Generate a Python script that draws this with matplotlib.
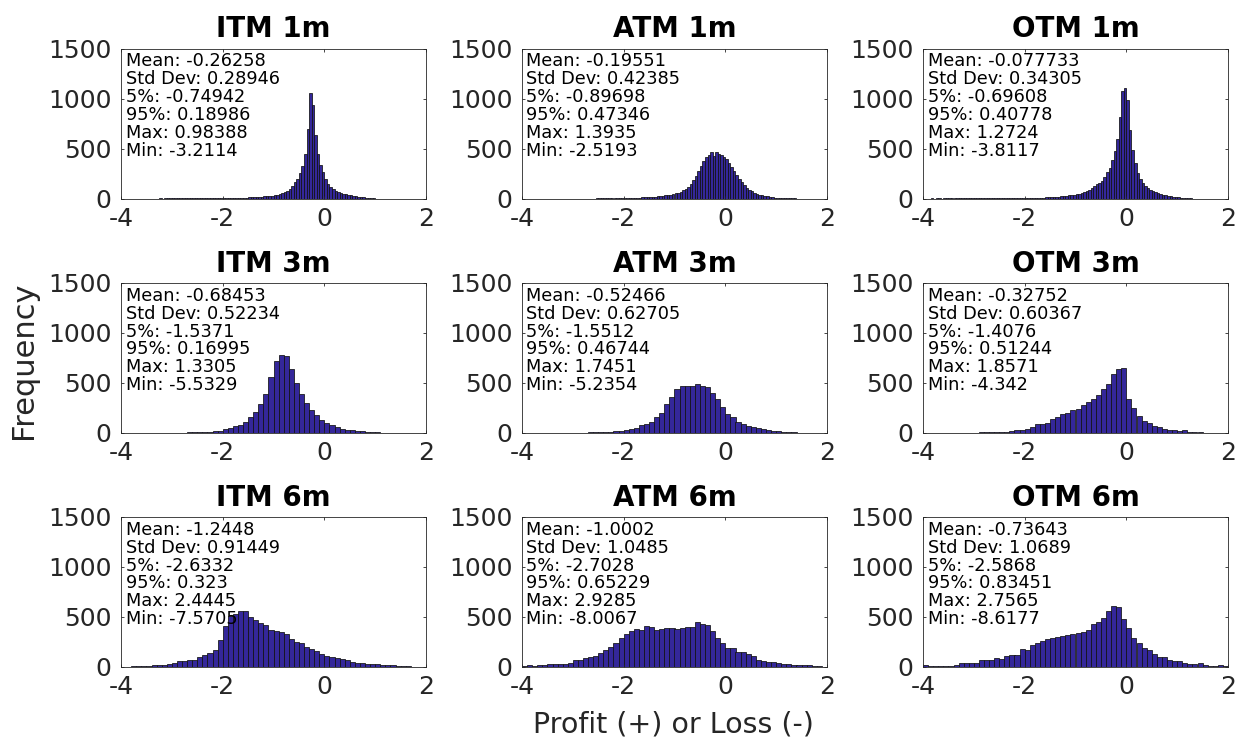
import numpy as np
import matplotlib
matplotlib.use("Agg")
import matplotlib.pyplot as plt

plt.rcParams['font.family'] = ['DejaVu Sans']
plt.rcParams['axes.unicode_minus'] = False

# ---------------- data (bin counts) ----------------
titles = ["ITM 1m", "ATM 1m", "OTM 1m",
          "ITM 3m", "ATM 3m", "OTM 3m",
          "ITM 6m", "ATM 6m", "OTM 6m"]

# first bin left edge and bin width for each panel
bin_start = [-3.25, -2.55, -3.85,
             -4.0, -4.0, -4.0,
             -4.0, -4.0, -4.0]
bin_width = [0.05, 0.05, 0.05,
             0.1, 0.1, 0.1,
             0.1, 0.1, 0.1]

itm_1m = [1, 0, 1, 1, 1, 1, 1, 1, 2, 1, 2, 2, 2, 2, 2, 2, 3, 3, 3, 3, 3, 3, 4, 4, 4,
          4, 5, 5, 6, 6, 7, 7, 8, 9, 10,
          11, 12, 13, 14, 16, 18, 21, 23, 26, 30,
          34, 40, 46, 55, 66, 80, 98, 125, 165, 195,
          255, 330, 450, 700, 1060, 940, 640, 450, 340, 265,
          200, 150, 118, 95, 80, 68, 58, 50, 44, 40,
          36, 30, 25, 20, 16, 12, 9, 6, 4, 2]
atm_1m = [1, 1, 1, 2, 2, 2, 3, 3, 3, 4, 4,
          5, 5, 6, 7, 8, 9, 10, 11, 12, 14,
          15, 17, 19, 21, 24, 27, 31, 35, 40, 45,
          52, 60, 70, 82, 98, 120, 150, 185, 230, 280,
          330, 380, 420, 440, 465, 430, 470, 445, 440, 420,
          395, 360, 320, 280, 240, 200, 165, 135, 110, 90,
          74, 60, 50, 40, 33, 27, 22, 17, 13, 10,
          8, 6, 5, 4, 3, 2, 2, 1]
otm_1m = [1, 0, 1, 1, 0, 1, 1, 1, 1, 1, 1, 1, 1, 2, 1, 2, 2,
          2, 2, 2, 2, 3, 2, 3, 3, 3, 3, 3, 4, 4, 4, 4, 5, 5, 5, 5, 6,
          6, 6, 7, 7, 8, 8, 9, 10, 11, 12,
          14, 15, 17, 19, 22, 25, 28, 32, 36, 40,
          43, 47, 52, 62, 72, 85, 110, 125, 150, 160,
          180, 220, 270, 310, 390, 480, 600, 820, 1080, 1110,
          990, 690, 490, 360, 260, 200, 160, 125, 105, 90,
          78, 66, 56, 47, 40, 33, 27, 22, 18, 14,
          11, 8, 6, 4, 3, 1]
itm_3m = [1, 1, 1, 2, 2, 2, 2, 3, 3, 3,
          4, 5, 5, 6, 7, 8, 10, 13, 18, 25,
          43, 53, 67, 83, 110, 160, 210, 293, 393, 560,
          720, 785, 770, 640, 500, 390, 300, 235, 180, 135,
          100, 77, 60, 43, 35, 28, 22, 17, 13, 10,
          7, 5, 3, 1]
atm_3m = [1, 1, 1, 1, 2, 2, 2, 2, 3, 3,
          3, 4, 5, 6, 7, 9, 11, 14, 18, 22,
          28, 40, 55, 78, 95, 115, 160, 200, 295, 360,
          440, 470, 470, 470, 490, 475, 460, 400, 340, 265,
          195, 160, 115, 93, 75, 60, 48, 38, 30, 24,
          17, 12, 8, 6, 4, 3, 2, 1]
otm_3m = [1, 1, 2, 2, 2, 3, 3, 3, 4, 4,
          5, 6, 7, 8, 10, 12, 15, 20, 27, 33,
          43, 60, 87, 93, 100, 143, 160, 187, 203, 227,
          243, 277, 310, 343, 377, 443, 493, 593, 643, 650,
          340, 250, 175, 125, 100, 75, 60, 45, 35, 28,
          22, 30, 14, 10, 7, 5, 4, 2, 1]
itm_6m = [3, 5, 7, 10, 10, 13, 17, 20, 23, 33,
          40, 57, 60, 67, 73, 100, 117, 143, 173, 267,
          410, 507, 527, 557, 557, 500, 467, 443, 417, 367,
          360, 350, 327, 283, 250, 240, 200, 183, 157, 133,
          107, 100, 90, 77, 67, 50, 43, 43, 33, 27,
          27, 23, 20, 17, 13, 8, 6, 4, 3, 2]
atm_6m = [10, 20, 13, 17, 23, 27, 33, 33, 33, 40,
          73, 67, 93, 100, 107, 140, 167, 200, 240, 290,
          333, 360, 383, 373, 410, 400, 373, 383, 390, 390,
          383, 393, 400, 400, 450, 427, 417, 360, 293, 240,
          193, 193, 150, 150, 127, 107, 73, 60, 50, 50,
          43, 33, 27, 23, 20, 20, 17, 10, 7, 3]
otm_6m = [17, 10, 7, 10, 13, 13, 17, 40, 40, 43,
          43, 67, 67, 67, 93, 83, 110, 123, 123, 183,
          173, 223, 240, 260, 277, 290, 300, 310, 317, 327,
          343, 350, 367, 433, 450, 493, 560, 610, 600, 477,
          393, 290, 240, 190, 173, 133, 100, 100, 67, 60,
          60, 43, 33, 27, 43, 23, 10, 10, 17, 13]

counts = [itm_1m, atm_1m, otm_1m, itm_3m, atm_3m, otm_3m, itm_6m, atm_6m, otm_6m]

stats_text = [
    ["Mean: -0.26258", "Std Dev: 0.28946", "5%: -0.74942", "95%: 0.18986", "Max: 0.98388", "Min: -3.2114"],
    ["Mean: -0.19551", "Std Dev: 0.42385", "5%: -0.89698", "95%: 0.47346", "Max: 1.3935", "Min: -2.5193"],
    ["Mean: -0.077733", "Std Dev: 0.34305", "5%: -0.69608", "95%: 0.40778", "Max: 1.2724", "Min: -3.8117"],
    ["Mean: -0.68453", "Std Dev: 0.52234", "5%: -1.5371", "95%: 0.16995", "Max: 1.3305", "Min: -5.5329"],
    ["Mean: -0.52466", "Std Dev: 0.62705", "5%: -1.5512", "95%: 0.46744", "Max: 1.7451", "Min: -5.2354"],
    ["Mean: -0.32752", "Std Dev: 0.60367", "5%: -1.4076", "95%: 0.51244", "Max: 1.8571", "Min: -4.342"],
    ["Mean: -1.2448", "Std Dev: 0.91449", "5%: -2.6332", "95%: 0.323", "Max: 2.4445", "Min: -7.5705"],
    ["Mean: -1.0002", "Std Dev: 1.0485", "5%: -2.7028", "95%: 0.65229", "Max: 2.9285", "Min: -8.0067"],
    ["Mean: -0.73643", "Std Dev: 1.0689", "5%: -2.5868", "95%: 0.83451", "Max: 2.7565", "Min: -8.6177"],
]

x_ticks = [-4, -2, 0, 2]
y_ticks = [0, 500, 1000, 1500]

# ---------------- figure ----------------
W, H = 1241, 740
fig = plt.figure(figsize=(W / 100, H / 100), dpi=100)

col_left = [121, 522, 923]
row_top = [48.5, 283, 517]
ax_w, ax_h = 305, 150

bar_face = '#34279a'
axis_col = '#262626'

for i in range(9):
    r, c = divmod(i, 3)
    ax = fig.add_axes([col_left[c] / W, 1 - (row_top[r] + ax_h) / H, ax_w / W, ax_h / H])
    cnt = np.array(counts[i], dtype=float)
    edges = bin_start[i] + bin_width[i] * np.arange(len(cnt) + 1)
    ax.bar(edges[:-1], cnt, width=bin_width[i], align='edge',
           color=bar_face, edgecolor='#111111', linewidth=0.55)
    ax.set_xlim(-4, 2)
    ax.set_ylim(0, 1500)
    ax.set_xticks(x_ticks)
    ax.set_yticks(y_ticks)
    ax.tick_params(direction='in', length=2.2, width=0.6, top=True, right=True,
                   labelsize=18, colors=axis_col, labelcolor=axis_col)
    ax.tick_params(axis='x', pad=6)
    ax.tick_params(axis='y', pad=7)
    for sp in ax.spines.values():
        sp.set_color(axis_col)
        sp.set_linewidth(0.6)
    ax.set_title(titles[i], fontsize=20, fontweight='bold', pad=8, color='black')
    for j, line in enumerate(stats_text[i]):
        ax.text(4.5 / ax_w, 1 - (18 + 17.8 * j) / ax_h, line,
                transform=ax.transAxes, ha='left', va='baseline',
                fontsize=12.8, color='black')

fig.text(673 / W, 1 - 733 / H, "Profit (+) or Loss (-)", ha='center', va='baseline',
         fontsize=20.5, color=axis_col)
fig.text(24 / W, 1 - 360 / H, "Frequency", ha='center', va='center', rotation=90,
         fontsize=22, color=axis_col)

fig.savefig("out.png", dpi=100)
